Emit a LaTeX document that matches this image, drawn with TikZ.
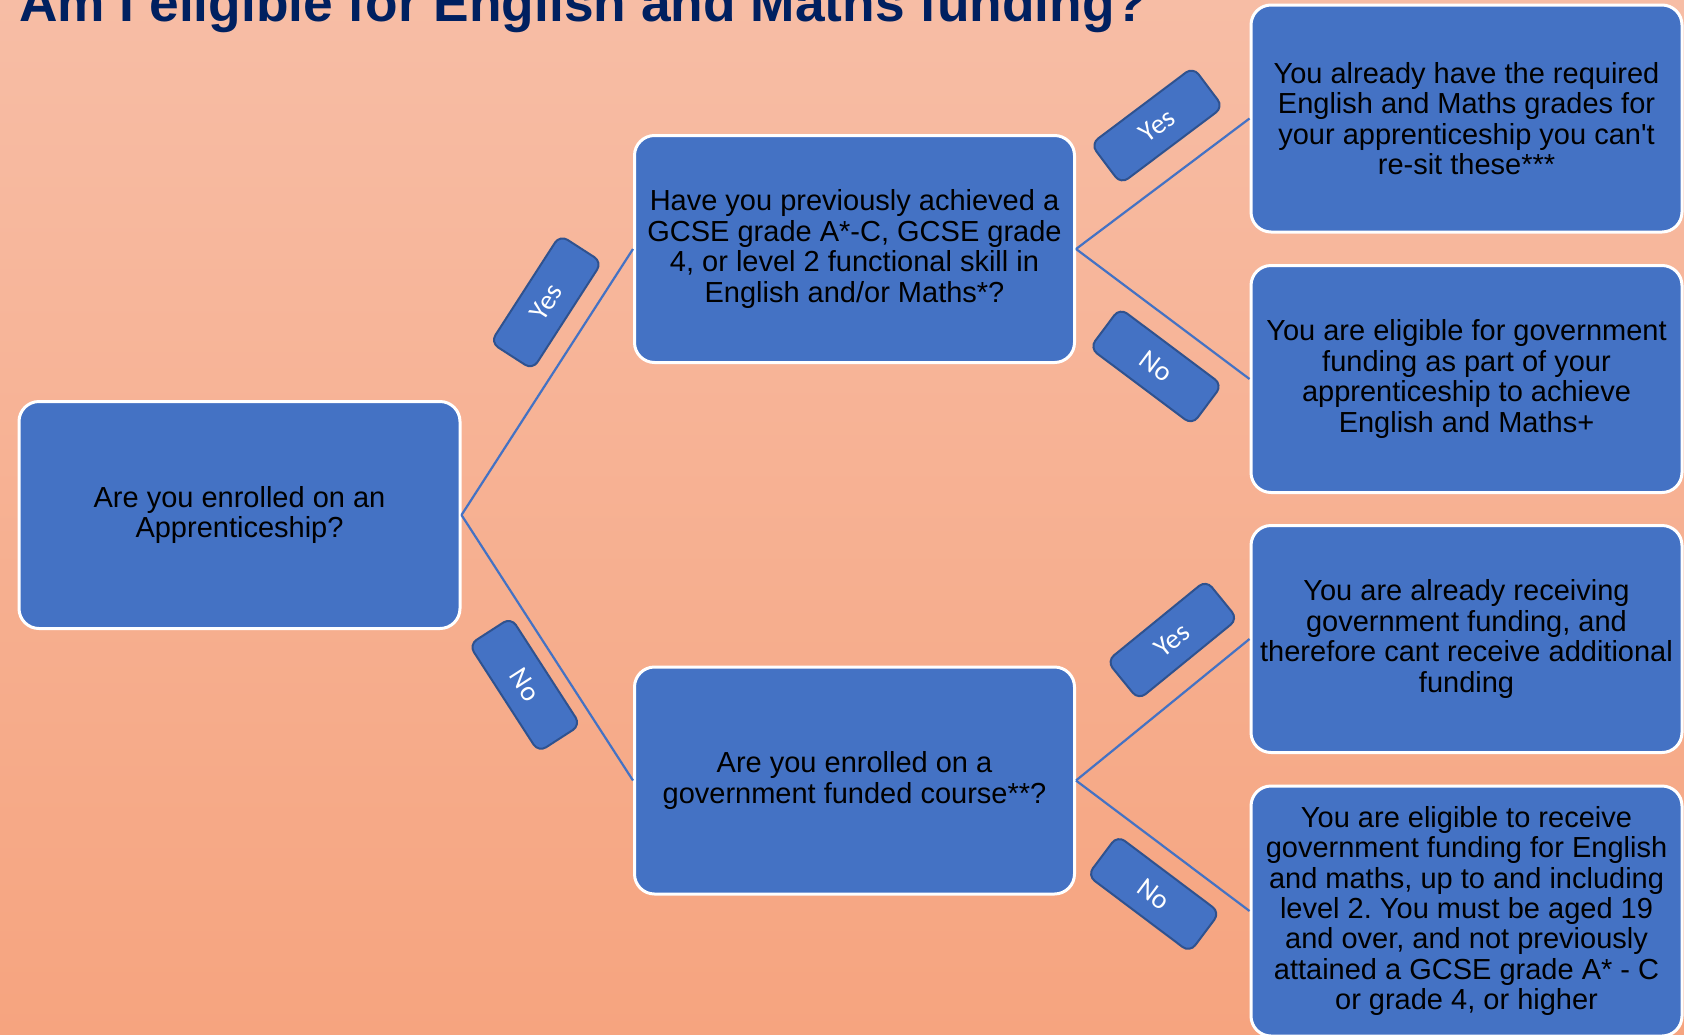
\documentclass[tikz,border=0pt]{standalone}
\usepackage{fontspec}
\setmainfont{Liberation Sans}[Ligatures=TeXOff]
\newfontfamily\tagfont{Carlito}
\definecolor{boxblue}{HTML}{4472C4}
\definecolor{tagedge}{HTML}{2F528F}
\definecolor{titlenavy}{HTML}{002060}
\definecolor{bgtop}{HTML}{F7BDA5}
\definecolor{bgbottom}{HTML}{F6A47F}
\frenchspacing

\begin{document}
\begin{tikzpicture}[x=1pt,y=-1pt,
  qbox/.style={draw=white,line width=3pt,fill=boxblue,rounded corners=20pt,inner sep=0pt,
    minimum width=440pt,minimum height=227pt,align=center,font=\fontsize{29}{30.4}\selectfont},
  abox/.style={qbox,minimum width=431pt},
  tagbox/.style={draw=tagedge,line width=2pt,fill=boxblue,rounded corners=9pt,sloped,
    minimum width=128pt,minimum height=50pt,text=white,font=\tagfont\fontsize{28}{28}\selectfont},
  link/.style={draw=boxblue,line width=2.2pt}]

\useasboundingbox (0,0) rectangle (1684,1034);
\shade[top color=bgtop,bottom color=bgbottom] (0,0) rectangle (1684,1034);

\node[anchor=base west,text=titlenavy,font=\bfseries\fontsize{53.3}{53}\selectfont,inner sep=0pt]
  (title) at (19,21) {Am I eligible for English and Maths funding?};

\node[qbox,minimum width=441pt] (enrol) at (239.5,515) {Are you enrolled on an\\Apprenticeship?};
\node[qbox] (prior) at (854.5,249) {Have you previously achieved a\\GCSE grade A*-C, GCSE grade\\4, or level 2 functional skill in\\English and/or Maths*?};
\node[qbox] (govt) at (854.5,780.5) {Are you enrolled on a\\government funded course**?};

\node[abox] (hasgrades) at (1466.5,118.5) {You already have the required\\English and Maths grades for\\your apprenticeship you can't\\re-sit these***};
\node[abox] (eligible) at (1466.5,379) {You are eligible for government\\funding as part of your\\apprenticeship to achieve\\English and Maths+};
\node[abox] (funded) at (1466.5,639) {You are already receiving\\government funding, and\\therefore cant receive additional\\funding};
\node[abox,minimum height=250pt] (adult) at (1466.5,911) {You are eligible to receive\\government funding for English\\and maths, up to and including\\level 2. You must be aged 19\\and over, and not previously\\attained a GCSE grade A* - C\\or grade 4, or higher};

\foreach \from/\to/\ans/\where/\side/\gap in {enrol/prior/Yes/.71/above/18pt,enrol/govt/No/.56/below/13pt,
  prior/hasgrades/Yes/.64/above/24pt,prior/eligible/No/.62/below/20pt,
  govt/funded/Yes/.73/above/22pt,govt/adult/No/.6/below/18pt}{%
\draw[link] (\from.east) -- node[tagbox,pos=\where,\side=\gap] {\ans} (\to.west);
}

\end{tikzpicture}
\end{document}
